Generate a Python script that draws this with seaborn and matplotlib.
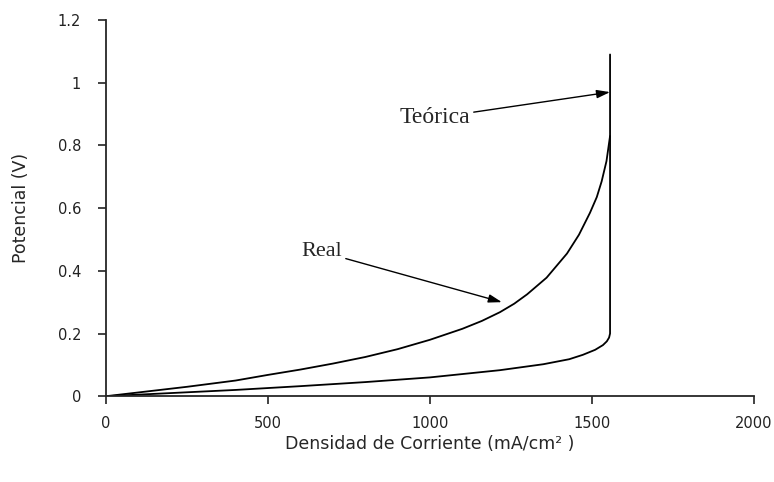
import numpy as np
import pandas as pd
import matplotlib.pyplot as plt
import seaborn as sns

# curva real
real_x = [0, 100, 250, 400, 500, 600, 700, 800, 900, 1000, 1100, 1160, 1216, 1260,
          1300, 1360, 1423, 1460, 1494, 1515, 1530, 1545, 1556]
real_y = [0, 0.012, 0.03, 0.05, 0.068, 0.085, 0.104, 0.125, 0.15, 0.18, 0.215, 0.24,
          0.268, 0.295, 0.325, 0.378, 0.455, 0.515, 0.585, 0.635, 0.685, 0.75, 0.83]

# curva teorica
teo_x = [0, 200, 400, 599, 800, 1000, 1216, 1350, 1430, 1472, 1510, 1534,
         1546, 1553, 1556, 1556, 1556]
teo_y = [0, 0.01, 0.02, 0.032, 0.045, 0.06, 0.083, 0.102, 0.118, 0.132, 0.148,
         0.163, 0.175, 0.187, 0.2, 0.6, 1.09]

x_ticks = [0, 500, 1000, 1500, 2000]
y_ticks = [0, 0.2, 0.4, 0.6, 0.8, 1, 1.2]
y_tick_labels = ["0", "0.2", "0.4", "0.6", "0.8", "1", "1.2"]

sns.set_style("ticks")
plt.rcParams['font.family'] = ['DejaVu Sans']

fig = plt.figure(figsize=(7.74, 4.82), dpi=100)
ax = fig.add_axes([0.137, 0.178, 0.837, 0.7805])

df_real = pd.DataFrame({'x': real_x, 'y': real_y})
df_teo = pd.DataFrame({'x': teo_x, 'y': teo_y})
sns.lineplot(data=df_real, x='x', y='y', sort=False, estimator=None,
             color='black', lw=1.3, ax=ax)
sns.lineplot(data=df_teo, x='x', y='y', sort=False, estimator=None,
             color='black', lw=1.3, ax=ax)

ax.set_xlim(0, 2000)
ax.set_ylim(0, 1.2)
ax.set_xticks(x_ticks)
ax.set_yticks(y_ticks)
ax.set_yticklabels(y_tick_labels)
ax.tick_params(axis='x', direction='out', length=6, width=1.2, labelsize=10.5, pad=8,
               colors='#222222')
ax.tick_params(axis='y', direction='out', length=6, width=1.2, labelsize=10.5, pad=12,
               colors='#222222')
for s in ['left', 'bottom']:
    ax.spines[s].set_linewidth(1.3)
sns.despine(ax=ax)

ax.set_xlabel("Densidad de Corriente (mA/cm² )", fontsize=12.5, labelpad=3)
ax.set_ylabel("Potencial (V)", fontsize=12.5, labelpad=20)

arrow = dict(arrowstyle='-|>,head_length=0.8,head_width=0.25', mutation_scale=10,
             color='black', lw=1.0, shrinkA=0, shrinkB=0)
ax.annotate("Teórica", xy=(1556, 0.97), xytext=(1125, 0.888), fontsize=17,
            family='Liberation Serif', ha='right', va='center', arrowprops=arrow)
ax.annotate("Real", xy=(1222, 0.30), xytext=(730, 0.46), fontsize=16,
            family='Liberation Serif', ha='right', va='center', arrowprops=arrow)

fig.savefig("out.png", dpi=100)
